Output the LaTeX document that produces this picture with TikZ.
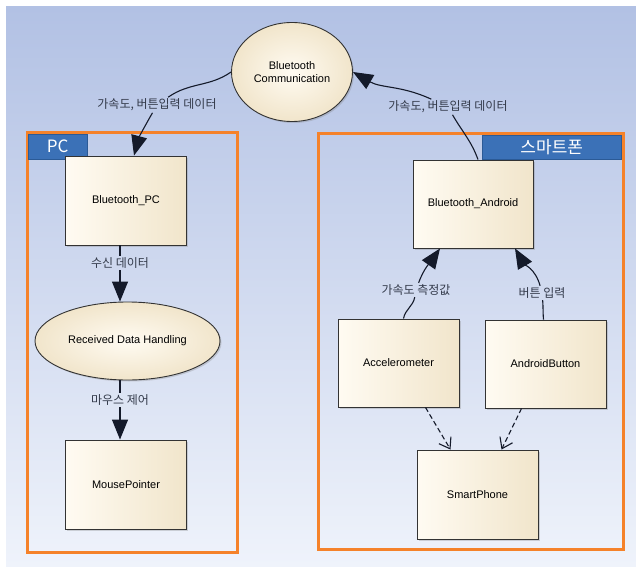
\documentclass[tikz,border=0pt]{standalone}
\usepackage{fontspec}
\setmainfont{Liberation Sans}
\newfontfamily\kor{Noto Sans CJK KR}
\usetikzlibrary{arrows.meta,shapes.geometric,shadows}

\tikzset{
  cls/.style={rectangle, draw=boxline, line width=0.9pt, left color=cream1, right color=cream2,
    minimum width=121pt, minimum height=89pt, font=\fontsize{11}{13}\selectfont,
    drop shadow={shadow xshift=1.5pt, shadow yshift=-1.5pt, opacity=0.3}},
  act/.style={cls, ellipse, inner color=cream1, outer color=cream2},
  seg/.style={draw=linec, line width=1.1pt},
  flow/.style={seg, -{Triangle[length=20pt,width=16pt]}},
  dep/.style={seg, dash pattern=on 5pt off 3pt, -{Straight Barb[length=10pt,width=14pt]}},
  lbl/.style={font=\kor\fontsize{12}{14}\selectfont, text=labelc, inner sep=1.5pt},
  tabbox/.style={rectangle, fill=tabblue, draw=tabline, line width=0.8pt, text=white,
    font=\kor\fontsize{17}{19}\selectfont, inner sep=0pt},
  grp/.style={draw=grporange, line width=3pt}
}

\begin{document}
\begin{tikzpicture}[x=1pt, y=1pt]
  \definecolor{bgtop}{HTML}{B2C1E4}
  \definecolor{bgbot}{HTML}{EFF3FB}
  \definecolor{grporange}{HTML}{F5822A}
  \definecolor{tabblue}{HTML}{3B71B7}
  \definecolor{tabline}{HTML}{2B5A96}
  \definecolor{cream1}{HTML}{FFFBF2}
  \definecolor{cream2}{HTML}{F1E5CB}
  \definecolor{boxline}{HTML}{333333}
  \definecolor{linec}{HTML}{141A2A}
  \definecolor{labelc}{HTML}{333A4A}
  \useasboundingbox (0,0) rectangle (636,566);
  \shade[top color=bgtop, bottom color=bgbot] (6,0) rectangle (636,559);

  % groups
  \draw[grp] (27,14) rectangle (237,433);
  \draw[grp] (318,17) rectangle (623,432);
  \node[tabbox, minimum width=58.5pt, minimum height=24.5pt] (tabpc) at (57.75,419.25) {PC};
  \node[tabbox, minimum width=139.5pt, minimum height=23.5pt] (tabphone) at (551.75,418.75) {스마트폰};

  % classes and activities
  \node[act, minimum width=121pt, minimum height=99pt, align=center] (bcomm) at (292,494) {Bluetooth\\Communication};
  \node[cls] (btpc) at (126,365.5) {Bluetooth\_PC};
  \node[act, minimum width=185pt, minimum height=78pt] (rdh) at (127.5,225) {Received Data Handling};
  \node[cls] (mouse) at (126,81.5) {MousePointer};
  \node[cls, minimum width=120pt, minimum height=88pt] (btand) at (473,362) {Bluetooth\_Android};
  \node[cls, minimum height=88pt] (accel) at (398.5,203) {Accelerometer};
  \node[cls, minimum height=88pt] (abtn) at (545.5,202) {AndroidButton};
  \node[cls] (phone) at (477.5,71.5) {SmartPhone};

  % labels
  \node[lbl] (lbltl) at (157,461) {가속도, 버튼입력 데이터};
  \node[lbl] (lbltr) at (448,459) {가속도, 버튼입력 데이터};
  \node[lbl] (lblrx) at (120,303) {수신 데이터};
  \node[lbl] (lblms) at (120,166) {마우스 제어};
  \node[lbl] (lblacc) at (416,276) {가속도 측정값};
  \node[lbl] (lblbtn) at (542,273) {버튼 입력};

  % connectors
  \draw[seg] (bcomm.west) to[out=215,in=35] (lbltl);
  \draw[flow] (lbltl) to[out=240,in=75] ([xshift=8pt]btpc.north);
  \draw[seg] ([xshift=5pt]btand.north) to[out=110,in=-60] (lbltr);
  \draw[flow] (lbltr) to[out=155,in=-30] (bcomm.east);
  \draw[seg] (btpc.south -| lblrx) -- (lblrx);
  \draw[flow] (lblrx) -- (rdh.north -| lblrx);
  \draw[seg] (rdh.south -| lblms) -- (lblms);
  \draw[flow] (lblms) -- (mouse.north -| lblms);
  \draw[seg] ([xshift=5pt]accel.north) to[out=80,in=-100] (lblacc);
  \draw[flow] (lblacc) to[out=70,in=-125] ([xshift=-33pt]btand.south);
  \draw[seg] ([xshift=-2pt]abtn.north) to[out=95,in=-85] (lblbtn);
  \draw[flow] (lblbtn) to[out=105,in=-60] ([xshift=42pt]btand.south);
  \draw[dep] ([xshift=27pt]accel.south) -- ([xshift=-27pt]phone.north);
  \draw[dep] ([xshift=-24pt]abtn.south) -- ([xshift=24pt]phone.north);
\end{tikzpicture}
\end{document}
